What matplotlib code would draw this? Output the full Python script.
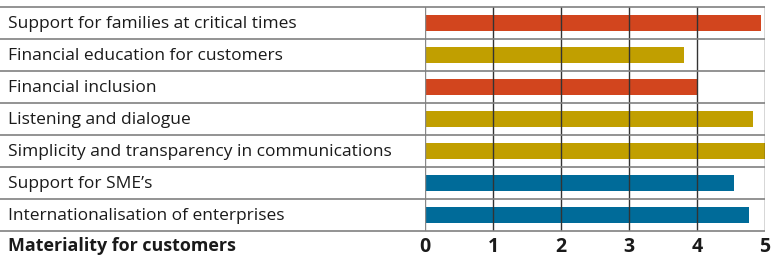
import matplotlib

matplotlib.use("Agg")

import matplotlib.pyplot as plt

# Data (top to bottom)
categories = [
    "Support for families at critical times",
    "Financial education for customers",
    "Financial inclusion",
    "Listening and dialogue",
    "Simplicity and transparency in communications",
    "Support for SME\u2019s",
    "Internationalisation of enterprises",
]
values = [4.94, 3.81, 4.0, 4.82, 5.0, 4.54, 4.76]
groups = ["red", "gold", "red", "gold", "gold", "blue", "blue"]
ticks = [0, 1, 2, 3, 4, 5]
axis_title = "Materiality for customers"

palette = {"red": "#D2451E", "gold": "#C19F00", "blue": "#006B99"}

plt.rcParams["font.family"] = ["Open Sans", "DejaVu Sans"]

W, H = 771, 260
fig = plt.figure(figsize=(W / 100, H / 100), dpi=100)
x0, x1 = 425, 765
ytop, ybot = 7, 231
ax = fig.add_axes([x0 / W, 1 - ybot / H, (x1 - x0) / W, (ybot - ytop) / H])

n = len(categories)
ypos = list(range(n))
ax.barh(ypos, values, height=0.5, color=[palette[g] for g in groups], zorder=1)
ax.set_xlim(0, 5)
ax.set_ylim(n - 0.5, -0.5)

# vertical grid
for t in ticks:
    ax.axvline(t, color="#333333" if t > 0 else "#888888", lw=1.0, zorder=2)

# horizontal row separators across label column
for b in [i - 0.5 for i in range(n + 1)]:
    ax.hlines(b, -x0 / (x1 - x0), 1.0, transform=ax.get_yaxis_transform(),
              color="#808080", lw=1.2, clip_on=False, zorder=3)

lx = -(x0 - 8) / (x1 - x0)
for y, label in zip(ypos, categories):
    ax.text(lx, y + 0.03, label, transform=ax.get_yaxis_transform(),
            ha="left", va="center", fontsize=12.5, color="#1a1a1a")

for s in ax.spines.values():
    s.set_visible(False)
ax.set_yticks([])
ax.set_xticks(ticks)
ax.set_xticklabels([str(t) for t in ticks], fontsize=14, fontweight="bold", color="#1a1a1a")
ax.tick_params(axis="x", length=0, pad=4)

ax.text(lx, n - 0.5 + 0.47, axis_title, transform=ax.get_yaxis_transform(),
        ha="left", va="center", fontsize=12.9, fontweight="bold", color="#1a1a1a")

fig.savefig("out.png", dpi=100)
